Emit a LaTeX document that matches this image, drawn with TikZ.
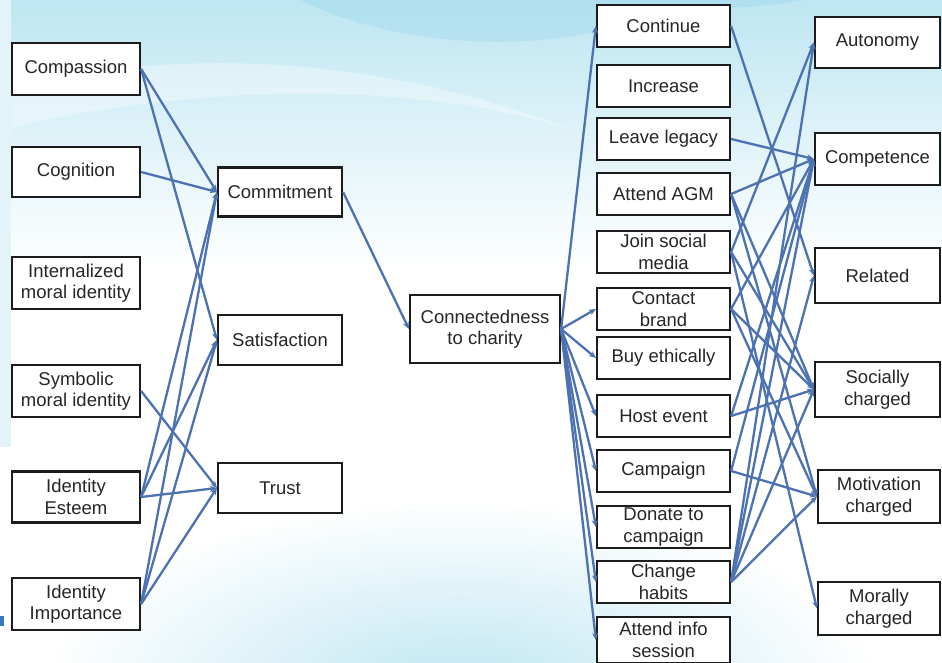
\documentclass[tikz,border=0pt]{standalone}
\usepackage{fontspec}
\setmainfont{Liberation Sans}
\usetikzlibrary{arrows.meta}
\definecolor{linkblue}{RGB}{76,114,178}
\definecolor{skyA}{RGB}{190,230,242}
\definecolor{skyB}{RGB}{226,244,250}
\definecolor{skyC}{RGB}{150,212,234}
\definecolor{boxline}{RGB}{28,28,28}
\definecolor{marker}{RGB}{52,120,190}
\tikzset{
  box/.style={draw=boxline, line width=2.2pt, fill=white, align=center,
    inner sep=0pt, text=black!85, font=\fontsize{18.5}{21.5}\selectfont},
  link/.style={draw=linkblue, line width=2.3pt,
    -{Stealth[length=7pt,width=6pt]}}
}
\begin{document}
\begin{tikzpicture}[x=1pt,y=-1pt]
\useasboundingbox (0,0) rectangle (942,662);
\begin{scope}
\clip (0,0) rectangle (942,662);
% backdrop
\fill[white] (0,0) rectangle (942,662);
\shade[top color=skyA, bottom color=white] (0,0) rectangle (942,270);
\fill[skyC, opacity=0.35] (300,0) .. controls (380,40) and (520,60) .. (640,20)
  .. controls (700,5) and (760,10) .. (800,0) -- cycle;
\fill[white, opacity=0.35] (0,90) .. controls (200,40) and (420,60) .. (620,150)
  .. controls (500,90) and (250,70) .. (0,130) -- cycle;
\shade[inner color=skyA, outer color=white] (460,690) ellipse (420 and 190);
\fill[skyB] (0,0) rectangle (11,447);
\fill[marker] (0,616) rectangle (4,626);
\end{scope}

% antecedents
\node[box, minimum width=128, minimum height=52] (compassion) at (76,69) {Compassion};
\node[box, minimum width=128, minimum height=50] (cognition) at (76,172) {Cognition};
\node[box, minimum width=128, minimum height=52] (internal) at (76,283) {Internalized\\moral identity};
\node[box, minimum width=128, minimum height=52] (symbolic) at (76,391) {Symbolic\\moral identity};
\node[box, minimum width=128, minimum height=51] (esteem) at (76,497) {Identity\\Esteem};
\node[box, minimum width=128, minimum height=52] (importance) at (76,604) {Identity\\Importance};

% relationship quality
\node[box, minimum width=124, minimum height=49] (commitment) at (280,192) {Commitment};
\node[box, minimum width=124, minimum height=50] (satisfaction) at (280,340) {Satisfaction};
\node[box, minimum width=124, minimum height=50] (trust) at (280,488) {Trust};

\node[box, minimum width=150, minimum height=68] (connect) at (485,329) {Connectedness\\to charity};

% behaviours
\foreach \n/\y/\t in {continue/26/Continue, increase/86/Increase,
    legacy/139/Leave legacy, agm/194/Attend AGM, social/252/Join social\\media,
    contact/309/Contact\\brand, buy/358/Buy ethically, host/416/Host event,
    campaign/471/Campaign, donate/527/Donate to\\campaign, change/582/Change\\habits}
  \node[box, minimum width=133, minimum height=42] (\n) at (663.5,\y) {\t};
\node[box, minimum width=133, minimum height=46] (info) at (663.5,640) {Attend info\\session};

% outcomes
\node[box, minimum width=125, minimum height=51] (autonomy) at (877.5,42.5) {Autonomy};
\node[box, minimum width=125, minimum height=52] (competence) at (877.5,159) {Competence};
\node[box, minimum width=125, minimum height=55] (related) at (877.5,275.5) {Related};
\node[box, minimum width=125, minimum height=55] (socially) at (877.5,389.5) {Socially\\charged};
\node[box, minimum width=122, minimum height=53] (motivation) at (879,496.5) {Motivation\\charged};
\node[box, minimum width=122, minimum height=53] (morally) at (879,608.5) {Morally\\charged};

% antecedents -> relationship quality
\foreach \a/\b in {compassion/commitment, compassion/satisfaction, cognition/commitment,
    symbolic/trust, esteem/commitment, esteem/satisfaction, esteem/trust,
    importance/commitment, importance/satisfaction, importance/trust}
  \draw[link] (\a.east) -- (\b.west);
\draw[link] (commitment.east) -- (connect.west);

% connectedness -> behaviours
\foreach \b in {continue, contact, buy, host, campaign, donate, change, info}
  \draw[link] (connect.east) -- (\b.west);

% behaviours -> outcomes
\foreach \a/\b in {continue/related, legacy/competence, agm/competence, agm/socially,
    agm/motivation, social/autonomy, social/socially, social/morally,
    contact/competence, contact/socially, contact/motivation, host/socially,
    host/competence, campaign/motivation, campaign/competence, change/autonomy,
    change/competence, change/related, change/socially, change/motivation}
  \draw[link] (\a.east) -- (\b.west);
\end{tikzpicture}
\end{document}
